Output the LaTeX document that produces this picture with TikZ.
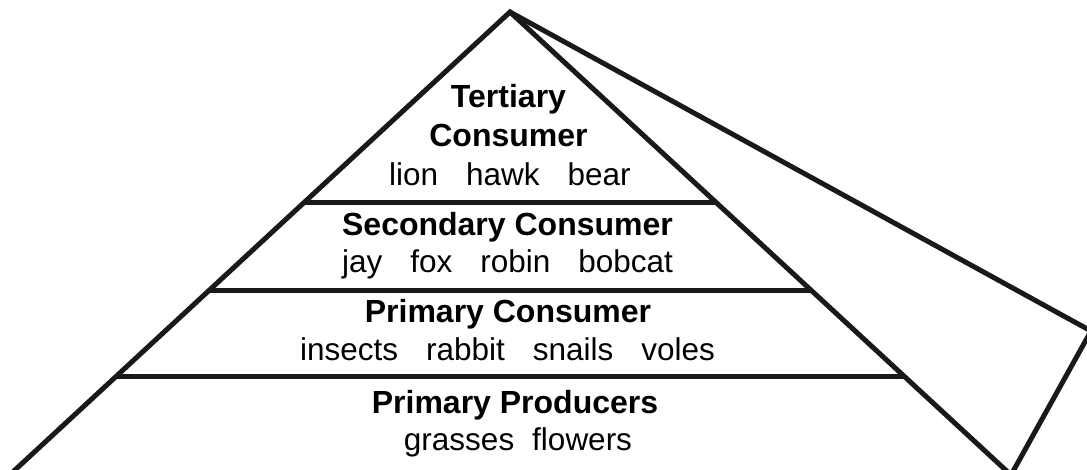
\documentclass[tikz,border=0pt]{standalone}
\usepackage{fontspec}
\setmainfont{Liberation Sans}
\tikzset{
  edge/.style={draw=black!90, line width=5pt, line join=miter},
  title/.style={anchor=base, inner sep=0pt, font=\fontsize{32}{36}\selectfont\bfseries},
  items/.style={anchor=base, inner sep=0pt, font=\fontsize{31.5}{36}\selectfont},
}
\newcommand\wgap{\hspace{28pt}}
\begin{document}
\begin{tikzpicture}[x=1pt,y=-1pt]
\useasboundingbox (0,0) rectangle (1087,470);
\clip (0,0) rectangle (1087,470);
\coordinate (apex) at (510,12);
\coordinate (bl) at (2,482);
\coordinate (br) at (1011,475);
\coordinate (corner) at (1091,331);
\coordinate (t1l) at (303,203);
\coordinate (t1r) at (717,203);
\coordinate (t2l) at (208,291);
\coordinate (t2r) at (811,291);
\coordinate (t3l) at (116,376);
\coordinate (t3r) at (903,376);
\draw[edge] (bl) -- (apex) -- (br);
\draw[edge] (apex) -- (corner) -- (br);
\draw[edge] (t1l) -- (t1r);
\draw[edge] (t2l) -- (t2r);
\draw[edge] (t3l) -- (t3r);
\node[title] (ter1) at (508.5,108) {Tertiary};
\node[title] (ter2) at (508.5,147) {Consumer};
\node[items] (ter3) at (510,186) {lion\wgap hawk\wgap bear};
\node[title] (sec1) at (507.5,236) {Secondary Consumer};
\node[items] (sec2) at (507.5,273) {jay\wgap fox\wgap robin\wgap bobcat};
\node[title] (pri1) at (508,323) {Primary Consumer};
\node[items] (pri2) at (507.5,360) {insects\wgap rabbit\wgap snails\wgap voles};
\node[title] (pro1) at (515,413) {Primary Producers};
\node[items] (pro2) at (518,450) {grasses\hspace{18pt}flowers};
\end{tikzpicture}
\end{document}
